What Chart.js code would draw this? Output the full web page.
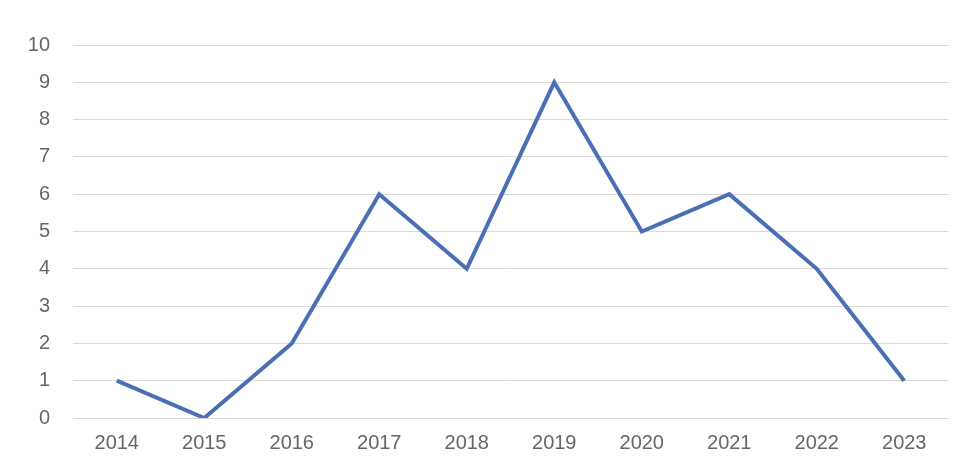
<!DOCTYPE html>
<html>
<head>
<meta charset="utf-8">
<script src="https://cdn.jsdelivr.net/npm/chart.js@4/dist/chart.umd.min.js"></script>
<style>
  html, body { margin: 0; padding: 0; background: #ffffff; }
  #wrap { width: 967px; height: 475px; position: relative; }
</style>
</head>
<body>
<div id="wrap"><canvas id="lineChart"></canvas></div>
<script>
// Chart data
const years = ["2014", "2015", "2016", "2017", "2018", "2019", "2020", "2021", "2022", "2023"];
const counts = [1, 0, 2, 6, 4, 9, 5, 6, 4, 1];
const yTicks = [0, 1, 2, 3, 4, 5, 6, 7, 8, 9, 10];

const tickFont = { family: "'Liberation Sans', Arial, sans-serif", size: 20 };

const ctx = document.getElementById("lineChart").getContext("2d");
new Chart(ctx, {
  type: "line",
  data: {
    labels: years,
    datasets: [{
      data: counts,
      borderColor: "#4a6fb5",
      borderWidth: 4,
      pointRadius: 0,
      tension: 0,
      fill: false
    }]
  },
  options: {
    responsive: true,
    maintainAspectRatio: false,
    animation: false,
    layout: { padding: { top: 45, right: 19, bottom: 0, left: 0 } },
    plugins: {
      legend: { display: false },
      tooltip: { enabled: false }
    },
    scales: {
      x: {
        offset: true,
        grid: { display: false, drawTicks: false },
        border: { display: false },
        ticks: {
          color: "#666666",
          font: tickFont,
          padding: 13,
          maxRotation: 0
        },
        afterFit: function(scale) { scale.height = 57; }
      },
      y: {
        min: yTicks[0],
        max: yTicks[yTicks.length - 1],
        grid: { color: "#d9d9d9", lineWidth: 1, drawTicks: false },
        border: { display: false },
        ticks: {
          stepSize: 1,
          color: "#666666",
          font: tickFont,
          padding: 23
        },
        afterFit: function(scale) { scale.width = 73; }
      }
    }
  }
});
</script>
</body>
</html>
